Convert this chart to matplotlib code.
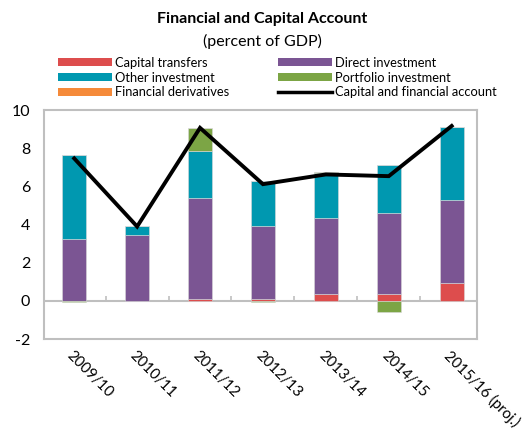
import numpy as np
import matplotlib.pyplot as plt
from matplotlib.patches import Patch
from matplotlib.lines import Line2D

plt.rcParams['font.family'] = ['Lato', 'DejaVu Sans']
plt.rcParams['axes.unicode_minus'] = False

years = ['2009/10', '2010/11', '2011/12', '2012/13', '2013/14', '2014/15', '2015/16 (proj.)']
capital_transfers = [0.0, 0.0, 0.1, 0.1, 0.35, 0.35, 0.93]
direct_investment = [3.26, 3.44, 5.27, 3.85, 4.02, 4.26, 4.35]
other_investment = [4.37, 0.51, 2.51, 2.35, 2.35, 2.51, 3.84]
portfolio_investment = [-0.05, 0.0, 1.17, -0.05, 0.05, -0.58, 0.0]
financial_derivatives = [0.0, 0.0, 0.0, 0.0, 0.0, 0.0, 0.0]
cap_fin_account = [7.47, 3.9, 9.07, 6.12, 6.63, 6.54, 9.17]

series = [
    ('Capital transfers', capital_transfers, '#DD4D4D'),
    ('Direct investment', direct_investment, '#7B5593'),
    ('Other investment', other_investment, '#0098B0'),
    ('Portfolio investment', portfolio_investment, '#7CA545'),
    ('Financial derivatives', financial_derivatives, '#F58A3A'),
]

fig = plt.figure(figsize=(5.24, 4.37), dpi=100)
ax = fig.add_axes([0.084, 0.224, 0.826, 0.524])

x = np.arange(len(years))
pos = np.zeros(len(years))
neg = np.zeros(len(years))
for name, vals, color in series:
    v = np.array(vals)
    bottom = np.where(v >= 0, pos, neg)
    ax.bar(x, v, 0.38, bottom=bottom, color=color, edgecolor='#d9d9d9',
           linewidth=0.4, label=name, zorder=2)
    pos += np.where(v >= 0, v, 0)
    neg += np.where(v < 0, v, 0)

ax.plot(x, cap_fin_account, color='black', lw=2.8, zorder=3,
        solid_joinstyle='miter')

# zero line with category separators (Excel style)
ax.axhline(0, color='#bfbfbf', lw=1.5, zorder=1)
ax.vlines(x[:-1] + 0.5, 0, 0.25, color='#bfbfbf', lw=1.2, zorder=1)

ax.set_ylim(-2, 10)
ax.set_yticks(range(-2, 11, 2))
ax.set_xlim(-0.48, 6.4)
ax.set_xticks(x)
ax.set_xticklabels(years, rotation=-45, ha='left', va='top',
                   rotation_mode='anchor', fontsize=10.8)
ax.tick_params(axis='x', length=0, pad=7)
ax.tick_params(axis='y', length=0, pad=10, labelsize=11.5)
for s in ax.spines.values():
    s.set_color('#bfbfbf')
    s.set_linewidth(1.5)

fig.text(0.5, 0.956, 'Financial and Capital Account', ha='center', va='center',
         fontsize=11.5, fontweight='bold')
fig.text(0.5, 0.906, '(percent of GDP)', ha='center', va='center', fontsize=11.5)

h = {name: Patch(facecolor=color) for name, _, color in series}
line_h = Line2D([], [], color='black', lw=2.5)
handles = [h['Capital transfers'], h['Other investment'], h['Financial derivatives'],
           h['Direct investment'], h['Portfolio investment'], line_h]
labels = ['Capital transfers', 'Other investment', 'Financial derivatives',
          'Direct investment', 'Portfolio investment', 'Capital and financial account']
fig.legend(handles, labels, ncol=2, loc='upper left', bbox_to_anchor=(0.111, 0.87),
           frameon=False, fontsize=9.3, handlelength=4.2, handleheight=0.6,
           handletextpad=0.2, labelspacing=0.22, columnspacing=3.75,
           borderpad=0, borderaxespad=0)

fig.savefig('out.png', dpi=100)
